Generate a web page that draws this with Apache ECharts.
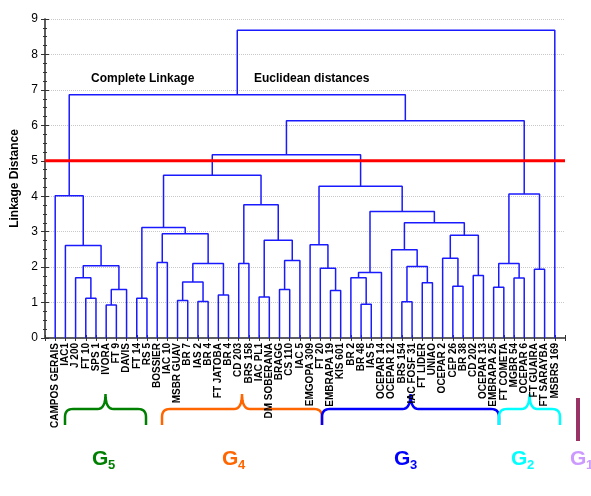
<!DOCTYPE html>
<html>
<head>
<meta charset="utf-8">
<script src="https://cdn.jsdelivr.net/npm/echarts@6/dist/echarts.min.js"></script>
<style>
html, body { margin: 0; padding: 0; background: #fff; }
#chart { width: 591px; height: 496px; }
</style>
</head>
<body>
<div id="chart"></div>
<script>
// leaves, left to right
var leafNames = ['CAMPOS GERAIS', 'IAC1', 'J 200', 'FT 10', 'SPS 1', 'IVORA', 'FT 9', 'DAVIS', 'FT 14', 'RS 5',
	'BOSSIER', 'IAC 10', 'MSBR GUAV', 'BR 7', 'IAS 2', 'BR 4', 'FT JATOBA', 'BR 4', 'CD 203', 'BRS 158',
	'IAC PL1', 'DM SOBERANA', 'BRAGG', 'CS 110', 'IAC 5', 'EMGOPA 309', 'FT 20', 'EMBRAPA 19', 'KIS 601', 'BR 2',
	'BR 48', 'IAS 5', 'OCEPAR 14', 'OCEPAR 12', 'BRS 154', 'IAC FOSF 31', 'FT LIDER', 'UNIAO', 'OCEPAR 2', 'CEP 26',
	'BR 38', 'CD 202', 'OCEPAR 13', 'EMBRAPA 25', 'FT COMETA', 'MGBR 54', 'OCEPAR 6', 'FT GUAIRA', 'FT SARAYBA', 'MSBRS 169'];

// joins: index < 50 is a leaf, index >= 50 is join (index - 50)
var mergePairs = [
	[5, 6], [3, 4], [8, 9], [50, 7], [2, 51], [54, 53], [1, 55], [0, 56],
	[10, 11], [12, 13], [14, 15], [59, 60], [16, 17], [61, 62], [58, 63], [52, 64],
	[18, 19], [20, 21], [22, 23], [68, 24], [67, 69], [66, 70], [65, 71],
	[27, 28], [26, 73], [25, 74], [30, 31], [29, 76], [77, 32], [34, 35], [36, 37],
	[79, 80], [33, 81], [39, 40], [38, 83], [41, 42], [84, 85], [82, 86], [78, 87],
	[75, 88], [72, 89], [43, 44], [45, 46], [91, 92], [47, 48], [93, 94], [90, 95],
	[57, 96], [97, 49]
];
var mergeHeights = [
	0.93, 1.12, 1.12, 1.37, 1.70, 2.04, 2.61, 4.01,
	2.13, 1.06, 1.03, 1.58, 1.21, 2.10, 2.94, 3.12,
	2.10, 1.16, 1.37, 2.19, 2.76, 3.76, 4.59,
	1.34, 1.97, 2.63, 0.95, 1.70, 1.85, 1.02, 1.56,
	2.02, 2.49, 1.46, 2.25, 1.76, 2.90, 3.25, 3.57,
	4.28, 5.17, 1.43, 1.69, 2.10, 1.94, 4.06, 6.13,
	6.86, 8.68
];
var cutHeight = 5;

var groupNames = ['5', '4', '3', '2', '1'];
var groupColors = ['#008000', '#ff6600', '#0000ff', '#00ffff', '#cc99ff'];

var FONT = "'Liberation Sans', Arial, sans-serif";

var nodeX = [], nodeH = [];
for (var i = 0; i < leafNames.length; i++) {
	nodeX.push(i + 1);
	nodeH.push(0);
}
// one polyline per join, broken by gaps
var treeData = [];
for (var k = 0; k < mergePairs.length; k++) {
	var a = mergePairs[k][0], b = mergePairs[k][1], h = mergeHeights[k];
	treeData.push([nodeX[a], nodeH[a]], [nodeX[a], h], [nodeX[b], h], [nodeX[b], nodeH[b]], ['-', '-']);
	nodeX.push((nodeX[a] + nodeX[b]) / 2);
	nodeH.push(h);
}
var xMax = leafNames.length + 1;

// curly brace, tip up, sampled as points
function quad(p0, p1, p2, out) {
	for (var t = 0.125; t <= 1.0001; t += 0.125) {
		var u = 1 - t;
		out.push([u * u * p0[0] + 2 * u * t * p1[0] + t * t * p2[0], u * u * p0[1] + 2 * u * t * p1[1] + t * t * p2[1]]);
	}
}
function bracePoints(x0, x1, top, mid, bottom) {
	var xm = (x0 + x1) / 2, r = 8, pts = [[x0, bottom], [x0, mid + r]];
	quad([x0, mid + r], [x0, mid], [x0 + r, mid], pts);
	pts.push([xm - r, mid]);
	quad([xm - r, mid], [xm, mid], [xm, top], pts);
	quad([xm, top], [xm, mid], [xm + r, mid], pts);
	pts.push([x1 - r, mid]);
	quad([x1 - r, mid], [x1, mid], [x1, mid + r], pts);
	pts.push([x1, bottom]);
	return pts;
}
var braceSpans = [[65, 146], [162, 322], [322, 499], [499, 560]];
var labelX = [92, 222, 394, 511, 570];

var graphics = [
	{type: 'text', x: 91, y: 73, style: {text: 'Complete Linkage', font: 'bold 12px ' + FONT, fill: '#000'}},
	{type: 'text', x: 254, y: 73, style: {text: 'Euclidean distances', font: 'bold 12px ' + FONT, fill: '#000'}},
	{type: 'rect', shape: {x: 576, y: 398, width: 4, height: 43}, style: {fill: '#993366'}}
];
for (var g = 0; g < braceSpans.length; g++) {
	graphics.push({
		type: 'polyline',
		shape: {points: bracePoints(braceSpans[g][0], braceSpans[g][1], 394, 409, 425)},
		style: {stroke: groupColors[g], lineWidth: 2.5, fill: null}
	});
}
for (var g = 0; g < groupNames.length; g++) {
	graphics.push({type: 'text', x: labelX[g], y: 449, style: {text: 'G', font: 'bold 21px ' + FONT, fill: groupColors[g]}});
	graphics.push({type: 'text', x: labelX[g] + 16, y: 459, style: {text: groupNames[g], font: 'bold 13px ' + FONT, fill: groupColors[g]}});
}

var myChart = echarts.init(document.getElementById('chart'));
var axisColor = '#555';
myChart.setOption({
	animation: false,
	grid: {left: 45, right: 26, top: 19, bottom: 158},
	xAxis: [{
		type: 'value', min: 0, max: xMax, interval: 1, position: 'bottom',
		axisLine: {lineStyle: {color: axisColor, width: 1.5}},
		axisTick: {inside: true, length: 3, lineStyle: {color: '#333'}},
		splitLine: {show: false},
		axisLabel: {
			rotate: 90, margin: 5, color: '#000', fontFamily: FONT, fontSize: 10, fontWeight: 'bold',
			formatter: function (v) { return leafNames[v - 1] || ''; }
		}
	}, {
		type: 'value', min: 0, max: xMax, interval: 1, position: 'top',
		axisLine: {show: true, lineStyle: {color: axisColor, width: 1.5}},
		axisTick: {inside: true, length: 3, lineStyle: {color: '#333'}},
		splitLine: {show: false},
		axisLabel: {show: false}
	}],
	yAxis: [{
		type: 'value', min: 0, max: 9, interval: 1, position: 'left',
		name: 'Linkage Distance', nameLocation: 'middle', nameGap: 22,
		nameTextStyle: {fontFamily: FONT, fontSize: 12, fontWeight: 'bold', color: '#000'},
		axisLine: {show: true, lineStyle: {color: axisColor, width: 1.5}},
		axisTick: {inside: true, length: 4, lineStyle: {color: '#333'}},
		minorTick: {show: true, splitNumber: 4, length: 2, lineStyle: {color: '#333'}},
		splitLine: {lineStyle: {color: '#c8c8c8', type: 'dotted'}},
		axisLabel: {color: '#000', fontFamily: FONT, fontSize: 12, margin: 7}
	}, {
		type: 'value', min: 0, max: 9, interval: 1, position: 'right',
		axisLine: {show: true, lineStyle: {color: axisColor, width: 1.5}},
		axisTick: {inside: true, length: 4, lineStyle: {color: '#333'}},
		minorTick: {show: true, splitNumber: 4, length: 2, lineStyle: {color: '#333'}},
		splitLine: {show: false},
		axisLabel: {show: false}
	}],
	series: [{
		type: 'line',
		silent: true,
		symbol: 'none',
		connectNulls: false,
		lineStyle: {color: '#1a1aff', width: 1.5},
		data: treeData,
		z: 3
	}, {
		type: 'line',
		silent: true,
		symbol: 'none',
		lineStyle: {color: '#ff0000', width: 3},
		data: [[0, cutHeight], [xMax, cutHeight]],
		z: 5
	}],
	graphic: graphics
});
</script>
</body>
</html>
